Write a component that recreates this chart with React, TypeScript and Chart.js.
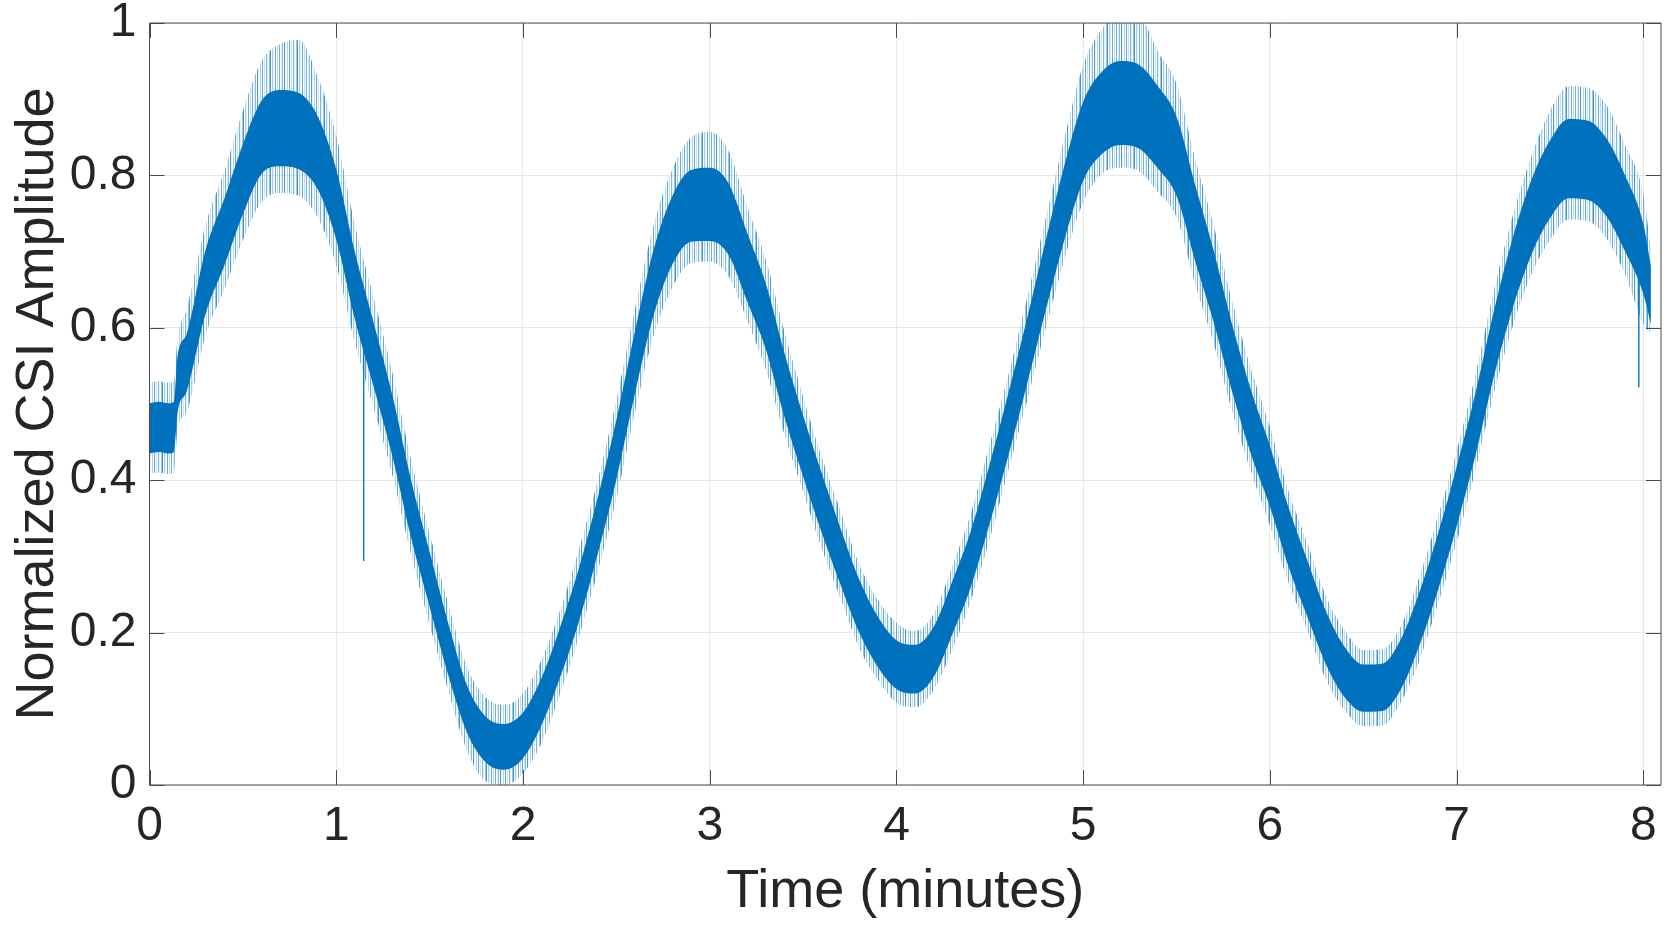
import React, { useEffect, useRef } from "react";
import { Chart, registerables } from "chart.js";

Chart.register(...registerables);

// Time axis (minutes) at which the band was read
const timeMin = [
  0, 0.05, 0.1, 0.13, 0.15, 0.2, 0.3, 0.4, 0.5, 0.6, 0.7, 0.8, 0.9,
  1.0, 1.1, 1.2, 1.3, 1.4, 1.5, 1.6, 1.7, 1.8, 1.9,
  2.0, 2.1, 2.2, 2.3, 2.4, 2.5, 2.6, 2.7, 2.8, 2.9,
  3.0, 3.1, 3.2, 3.3, 3.4, 3.5, 3.6, 3.7, 3.8, 3.9,
  4.0, 4.1, 4.2, 4.3, 4.4, 4.5, 4.6, 4.7, 4.8, 4.9,
  5.0, 5.1, 5.2, 5.3, 5.4, 5.5, 5.6, 5.7, 5.8, 5.9,
  6.0, 6.1, 6.2, 6.3, 6.4, 6.5, 6.6, 6.7, 6.8, 6.9,
  7.0, 7.1, 7.2, 7.3, 7.4, 7.5, 7.6, 7.7, 7.8, 7.9,
  8.0, 8.04,
];

// Centre of the noisy amplitude band
const centerAmp = [
  0.468, 0.47, 0.468, 0.47, 0.525, 0.555, 0.66, 0.725, 0.795, 0.85, 0.862, 0.858, 0.83,
  0.762, 0.655, 0.565, 0.472, 0.363, 0.27, 0.178, 0.1, 0.06, 0.05,
  0.065, 0.11, 0.175, 0.25, 0.34, 0.44, 0.555, 0.66, 0.728, 0.76,
  0.762, 0.743, 0.68, 0.615, 0.525, 0.445, 0.37, 0.3, 0.235, 0.188,
  0.158, 0.152, 0.175, 0.233, 0.298, 0.383, 0.474, 0.57, 0.67, 0.765,
  0.845, 0.882, 0.895, 0.89, 0.863, 0.825, 0.737, 0.653, 0.558, 0.475,
  0.405, 0.325, 0.258, 0.193, 0.148, 0.127, 0.128, 0.158, 0.218, 0.293,
  0.379, 0.473, 0.58, 0.672, 0.745, 0.795, 0.822, 0.82, 0.798, 0.751,
  0.69, 0.643,
];

// Half thickness of the dense (solid) part of the band
const coreHalf = [
  0.033, 0.033, 0.033, 0.033, 0.037, 0.038, 0.042, 0.044, 0.046, 0.048, 0.05, 0.05, 0.048,
  0.046, 0.044, 0.042, 0.04, 0.038, 0.036, 0.034, 0.031, 0.03, 0.03,
  0.03, 0.031, 0.033, 0.035, 0.037, 0.039, 0.041, 0.043, 0.045, 0.047,
  0.048, 0.047, 0.045, 0.043, 0.042, 0.04, 0.039, 0.037, 0.035, 0.033,
  0.032, 0.032, 0.033, 0.035, 0.037, 0.039, 0.041, 0.043, 0.046, 0.049,
  0.052, 0.054, 0.055, 0.055, 0.054, 0.052, 0.05, 0.047, 0.044, 0.042,
  0.04, 0.039, 0.037, 0.035, 0.033, 0.031, 0.031, 0.033, 0.035, 0.037,
  0.039, 0.041, 0.043, 0.046, 0.049, 0.051, 0.052, 0.052, 0.051, 0.05,
  0.046, 0.038,
];

// Reach of the sparse noise spikes above / below the centre
const spikeAbove = [
  0.06, 0.06, 0.06, 0.06, 0.06, 0.07, 0.075, 0.08, 0.09, 0.1, 0.11, 0.12, 0.1,
  0.09, 0.08, 0.075, 0.07, 0.065, 0.06, 0.06, 0.055, 0.055, 0.055,
  0.055, 0.055, 0.055, 0.06, 0.06, 0.065, 0.07, 0.075, 0.08, 0.09,
  0.095, 0.09, 0.08, 0.075, 0.07, 0.065, 0.06, 0.06, 0.055, 0.055,
  0.055, 0.05, 0.05, 0.055, 0.06, 0.065, 0.065, 0.07, 0.075, 0.085,
  0.1, 0.11, 0.12, 0.12, 0.1, 0.095, 0.085, 0.08, 0.075, 0.07,
  0.065, 0.06, 0.06, 0.055, 0.055, 0.05, 0.05, 0.05, 0.055, 0.06,
  0.06, 0.065, 0.07, 0.075, 0.08, 0.09, 0.095, 0.095, 0.095, 0.09,
  0.085, 0.06,
];
const spikeBelow = [
  0.06, 0.06, 0.06, 0.06, 0.06, 0.065, 0.07, 0.075, 0.08, 0.085, 0.085, 0.085, 0.085,
  0.08, 0.075, 0.07, 0.065, 0.06, 0.06, 0.055, 0.055, 0.055, 0.05,
  0.05, 0.055, 0.055, 0.055, 0.06, 0.065, 0.065, 0.07, 0.075, 0.075,
  0.075, 0.075, 0.07, 0.07, 0.065, 0.06, 0.06, 0.055, 0.055, 0.05,
  0.05, 0.05, 0.05, 0.055, 0.055, 0.06, 0.06, 0.065, 0.07, 0.075,
  0.08, 0.08, 0.085, 0.085, 0.085, 0.08, 0.08, 0.075, 0.07, 0.065,
  0.065, 0.06, 0.055, 0.055, 0.05, 0.05, 0.05, 0.05, 0.055, 0.055,
  0.06, 0.06, 0.065, 0.07, 0.075, 0.08, 0.08, 0.08, 0.08, 0.08,
  0.085, 0.05,
];

// Isolated deep drop-outs
const outlierTime = [1.147, 7.975];
const outlierTop = [0.61, 0.7];
const outlierBottom = [0.294, 0.522];

const xTicks = [0, 1, 2, 3, 4, 5, 6, 7, 8];
const xTickLabels = ["0", "1", "2", "3", "4", "5", "6", "7", "8"];
const yTicks = [0, 0.2, 0.4, 0.6, 0.8, 1];
const yTickLabels = ["0", "0.2", "0.4", "0.6", "0.8", "1"];

const X_MAX = 8.094;
const FONT = "'Liberation Sans', Arial, Helvetica, sans-serif";
const TEXT = "#262626";
const BLUE = "#0072BD";

// hairline texture so the spike halo reads as thin vertical noise strokes
const STRIPE_ALPHA = [0.75, 0, 0.35, 0.1, 0, 0.6, 0, 0.25, 0.05, 0.55, 0, 0.15, 0.45, 0, 0.7, 0.1, 0, 0.3, 0, 0.6, 0.05, 0.2, 0, 0.5, 0.1, 0, 0.4];

function makeStripePattern(ctx: CanvasRenderingContext2D) {
  const tile = document.createElement("canvas");
  tile.width = STRIPE_ALPHA.length;
  tile.height = 4;
  const tctx = tile.getContext("2d")!;
  STRIPE_ALPHA.forEach((a, i) => {
    tctx.fillStyle = `rgba(0,114,189,${a})`;
    tctx.fillRect(i, 0, 1, 4);
  });
  return ctx.createPattern(tile, "repeat");
}

const boxPlugin = {
  id: "matlabBox",
  afterDatasetsDraw(chart: any) {
    const { ctx, chartArea, scales } = chart;
    const { left, right, top, bottom } = chartArea;
    const tl = 15;
    ctx.save();
    ctx.strokeStyle = "#4a4a4a";
    ctx.lineWidth = 1;
    ctx.beginPath();
    ctx.rect(left, top, right - left, bottom - top);
    xTicks.forEach((v) => {
      const px = Math.round(scales.x.getPixelForValue(v)) + 0.5;
      ctx.moveTo(px, bottom);
      ctx.lineTo(px, bottom - tl);
      ctx.moveTo(px, top);
      ctx.lineTo(px, top + tl);
    });
    yTicks.forEach((v) => {
      const py = Math.round(scales.y.getPixelForValue(v)) + 0.5;
      ctx.moveTo(left, py);
      ctx.lineTo(left + tl, py);
      ctx.moveTo(right, py);
      ctx.lineTo(right - tl, py);
    });
    ctx.stroke();
    ctx.restore();
  },
};

export default function App() {
  const canvasRef = useRef<HTMLCanvasElement | null>(null);

  useEffect(() => {
    document.body.style.margin = "0";
    const canvas = canvasRef.current;
    if (!canvas) return;
    const ctx2d = canvas.getContext("2d")!;
    const stripes = makeStripePattern(ctx2d) || "rgba(0,114,189,0.35)";

    const pts = (fn: (i: number) => number) =>
      timeMin.map((t, i) => ({ x: t, y: fn(i) }));

    const outlierPts: any[] = [];
    outlierTime.forEach((t, i) => {
      outlierPts.push({ x: t, y: outlierTop[i] });
      outlierPts.push({ x: t, y: outlierBottom[i] });
      outlierPts.push({ x: t, y: null });
    });

    const hidden = "rgba(0,0,0,0)";
    const chart = new Chart(canvas, {
      type: "line",
      data: {
        datasets: [
          {
            data: pts((i) => centerAmp[i] + spikeAbove[i]),
            borderWidth: 0,
            pointRadius: 0,
            fill: 1,
            backgroundColor: stripes,
            borderColor: hidden,
            cubicInterpolationMode: "monotone",
            order: 2,
          },
          {
            data: pts((i) => centerAmp[i] - spikeBelow[i]),
            borderWidth: 0,
            pointRadius: 0,
            fill: false,
            borderColor: hidden,
            cubicInterpolationMode: "monotone",
            order: 2,
          },
          {
            data: pts((i) => centerAmp[i] + coreHalf[i]),
            borderWidth: 0,
            pointRadius: 0,
            fill: 3,
            backgroundColor: BLUE,
            borderColor: hidden,
            cubicInterpolationMode: "monotone",
            order: 1,
          },
          {
            data: pts((i) => centerAmp[i] - coreHalf[i]),
            borderWidth: 0,
            pointRadius: 0,
            fill: false,
            borderColor: hidden,
            cubicInterpolationMode: "monotone",
            order: 1,
          },
          {
            data: outlierPts,
            borderWidth: 1,
            pointRadius: 0,
            fill: false,
            borderColor: "rgba(0,114,189,0.75)",
            spanGaps: false,
            tension: 0,
            order: 0,
          },
        ],
      } as any,
      options: {
        responsive: false,
        animation: false,
        events: [],
        layout: { padding: { top: 23, right: 17, left: 0, bottom: 0 } },
        plugins: {
          legend: { display: false },
          tooltip: { enabled: false },
        },
        scales: {
          x: {
            type: "linear",
            min: 0,
            max: X_MAX,
            afterBuildTicks: (s: any) => {
              s.ticks = xTicks.map((v) => ({ value: v }));
            },
            afterFit: (s: any) => {
              s.height = 144;
              s.paddingLeft = 0;
              s.paddingRight = 0;
            },
            grid: { color: "#e8e8e8", lineWidth: 1, drawTicks: false },
            border: { display: false },
            ticks: {
              padding: 13,
              color: TEXT,
              font: { family: FONT, size: 48 },
              maxRotation: 0,
              autoSkip: false,
              callback: (_v: any, i: number) => xTickLabels[i],
            },
            title: {
              display: true,
              text: "Time (minutes)",
              color: TEXT,
              font: { family: FONT, size: 54 },
              padding: { top: 0, bottom: 4 },
            },
          },
          y: {
            type: "linear",
            min: 0,
            max: 1,
            afterBuildTicks: (s: any) => {
              s.ticks = yTicks.map((v) => ({ value: v }));
            },
            afterFit: (s: any) => {
              s.width = 149.5;
              s.paddingTop = 0;
              s.paddingBottom = 0;
            },
            grid: { color: "#e8e8e8", lineWidth: 1, drawTicks: false },
            border: { display: false },
            ticks: {
              padding: 13,
              color: TEXT,
              font: { family: FONT, size: 48 },
              autoSkip: false,
              callback: (_v: any, i: number) => yTickLabels[i],
            },
            title: {
              display: true,
              text: "Normalized CSI Amplitude",
              color: TEXT,
              font: { family: FONT, size: 54 },
              padding: { top: 6, bottom: 0 },
            },
          },
        },
      } as any,
      plugins: [boxPlugin],
    });

    return () => chart.destroy();
  }, []);

  return (
    <div style={{ position: "fixed", left: 0, top: 0, width: 1678, height: 929, background: "#fff" }}>
      <canvas ref={canvasRef} width={1678} height={929} style={{ display: "block" }} />
    </div>
  );
}
